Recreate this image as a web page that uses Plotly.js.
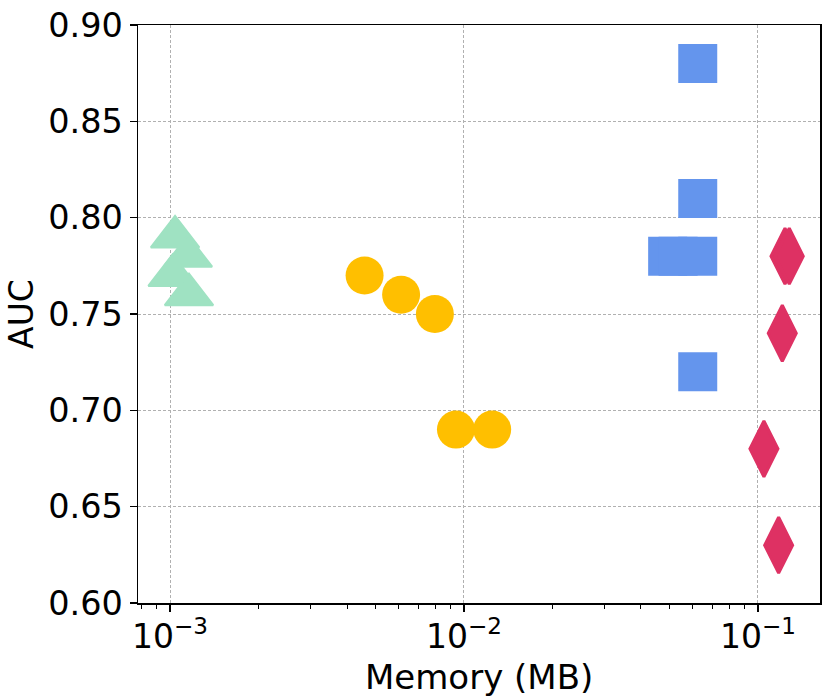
<!DOCTYPE html>
<html>
<head>
<meta charset="utf-8">
<script src="https://cdn.plot.ly/plotly-3.0.1.min.js"></script>
<style>
  html, body { margin: 0; padding: 0; background: #fff; }
  #chart { width: 831px; height: 700px; }
</style>
</head>
<body>
<div id="chart"></div>
<script>
// memory (MB) and AUC for each model family
var triMem = [0.00104, 0.00115, 0.00102, 0.00116];
var triAuc = [0.79, 0.78, 0.77, 0.76];

var circMem = [0.00459, 0.00611, 0.00796, 0.00939, 0.01247];
var circAuc = [0.77, 0.76, 0.75, 0.69, 0.69];

var sqMem = [0.0624, 0.0624, 0.0493, 0.0535, 0.0624, 0.0624];
var sqAuc = [0.88, 0.81, 0.78, 0.78, 0.78, 0.72];

var diaMem = [0.1236, 0.1278, 0.121, 0.1048, 0.1176];
var diaAuc = [0.78, 0.78, 0.74, 0.68, 0.63];

var xTickVals = [0.001, 0.01, 0.1];
var xTickText = ['10<sup>−3</sup>', '10<sup>−2</sup>', '10<sup>−1</sup>'];

var minorVals = [];
[0.0001, 0.001, 0.01, 0.1].forEach(function (d) {
    for (var k = 2; k <= 9; k++) minorVals.push(d * k);
});

function trace(x, y, symbol, size, color, lw) {
    return {
        x: x, y: y,
        type: 'scatter',
        mode: 'markers',
        marker: {symbol: symbol, size: size, color: color,
                 line: {color: color, width: lw}},
        hoverinfo: 'x+y'
    };
}

var data = [
    trace(triMem, triAuc, 'triangle-up', 42, '#9fe2c2', 2),
    trace(circMem, circAuc, 'circle', 38, '#ffbf00', 0),
    trace(sqMem, sqAuc, 'square', 39, '#6495ed', 0),
    trace(diaMem, diaAuc, 'diamond-tall', 40, '#de3163', 3)
];

var gridDash = '3px,2px';

var layout = {
    width: 831,
    height: 700,
    margin: {l: 138, r: 11, t: 25, b: 97},
    paper_bgcolor: '#fff',
    plot_bgcolor: '#fff',
    showlegend: false,
    font: {family: 'DejaVu Sans', color: '#000'},
    xaxis: {
        type: 'log',
        range: [Math.log10(0.000778), Math.log10(0.1626)],
        tickmode: 'array',
        tickvals: xTickVals,
        ticktext: xTickText,
        ticks: 'outside',
        ticklen: 7,
        tickwidth: 1.5,
        tickcolor: '#000',
        ticklabelstandoff: -3,
        tickfont: {family: 'DejaVu Sans', size: 33, color: '#000'},
        showline: true,
        linecolor: '#000',
        linewidth: 1.5,
        mirror: true,
        showgrid: true,
        gridcolor: '#b0b0b0',
        griddash: gridDash,
        gridwidth: 1,
        zeroline: false,
        minor: {tickmode: 'array', tickvals: minorVals, ticks: 'outside',
                ticklen: 4, tickwidth: 1, tickcolor: '#000', showgrid: false}
    },
    yaxis: {
        range: [0.60, 0.90],
        dtick: 0.05,
        tick0: 0.6,
        tickformat: '.2f',
        ticks: 'outside',
        ticklen: 7,
        tickwidth: 1.5,
        tickcolor: '#000',
        tickfont: {family: 'DejaVu Sans', size: 33.5, color: '#000'},
        showline: true,
        linecolor: '#000',
        linewidth: 1.5,
        mirror: true,
        showgrid: true,
        gridcolor: '#b0b0b0',
        griddash: gridDash,
        gridwidth: 1,
        zeroline: false,
        title: {text: 'AUC', font: {family: 'DejaVu Sans', size: 33, color: '#000'}, standoff: 4}
    },
    annotations: [{
        text: 'Memory (MB)',
        xref: 'paper', yref: 'paper',
        x: 0.5, y: -0.128,
        xanchor: 'center', yanchor: 'middle',
        showarrow: false,
        font: {family: 'DejaVu Sans', size: 34, color: '#000'}
    }]
};

Plotly.newPlot('chart', data, layout, {displayModeBar: false, staticPlot: true});
</script>
</body>
</html>
